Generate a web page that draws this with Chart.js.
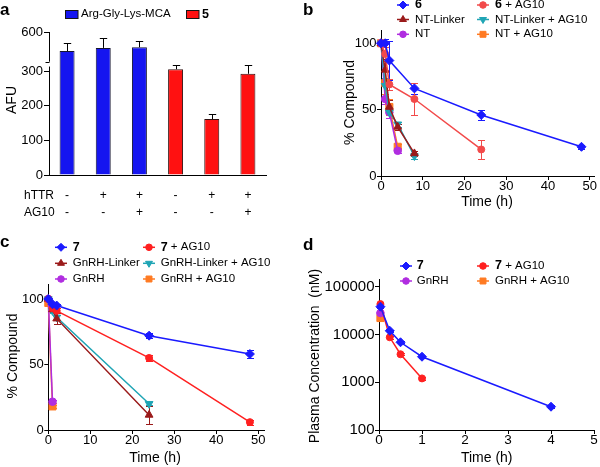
<!DOCTYPE html>
<html><head><meta charset="utf-8">
<script src="https://cdn.jsdelivr.net/npm/chart.js@4.4.1/dist/chart.umd.min.js"></script>
<style>
html,body{margin:0;padding:0;background:#fff;overflow:hidden;width:600px;height:467px}
canvas{position:absolute;left:0;top:0}
</style></head><body>
<canvas id="ca" width="600" height="467"></canvas>
<canvas id="cb" width="600" height="467"></canvas>
<canvas id="cc" width="600" height="467"></canvas>
<canvas id="cd" width="600" height="467"></canvas>
<script>
// ================= DATA =================
// Panel a (bar chart, AFU)
const aHTTR = ['-', '+', '+', '-', '+', '+'];
const aAG10 = ['-', '-', '+', '-', '-', '+'];
const aMCA = [483, 502, 506, null, null, null];
const aMCAErr = [51, 60, 39, null, null, null];
const a5 = [null, null, null, 306, 162, 293];
const a5Err = [null, null, null, 13, 16, 26];
const aYTicks = [0, 100, 200, 300, 600];

// Panel b (% compound vs time)
const bT6 = [0, 1, 2, 8, 24, 48];
const b6 = [100, 100, 87, 66, 46, 22];
const b6Err = [2, 3, 15, 4, 3.5, 1.5];
const bT6AG = [0, 1, 2, 8, 24];
const b6AG = [100, 92, 69, 58, 20];
const b6AGErr = [2, 5, 4, 12, 7];
const bTNTL = [0, 1, 2, 4, 8];
const bNTL = [100, 80, 52, 37, 17];
const bNTLErr = [2, 8, 5, 2, 2];
const bNTLAG = [100, 68, 48, 39, 15];
const bNTLAGErr = [2, 6, 4, 2, 2];
const bTNT = [0, 1, 2, 4];
const bNT = [100, 58, 48, 19];
const bNTErr = [2, 4, 4, 2];
const bNTAG = [100, 70, 52, 22];
const bNTAGErr = [2, 8, 6, 2];
const bXTicks = [0, 10, 20, 30, 40, 50];
const bYTicks = [0, 50, 100];

// Panel c
const cT7 = [0, 1, 2, 24, 48];
const c7 = [100, 96, 95, 72, 58];
const c7Err = [1, 1, 1.5, 2, 3];
const c7AG = [100, 93, 91, 55, 6];
const c7AGErr = [1, 2, 2, 2.5, 2];
const cTGL = [0, 1, 2, 24];
const cGL = [100, 92, 85, 11.5];
const cGLErr = [1, 2, 4, 7];
const cGLAG = [100, 91, 86, 20];
const cGLAGErr = [1, 2, 2, 1];
const cTG = [0, 1];
const cG = [100, 21.6];
const cGErr = [1, 1];
const cGAG = [97, 18];
const cGAGErr = [2, 1];
const cXTicks = [0, 10, 20, 30, 40, 50];
const cYTicks = [0, 50, 100];

// Panel d (plasma concentration, nM, log)
const dT7 = [0.033, 0.25, 0.5, 1, 4];
const d7 = [38000, 11900, 6840, 3410, 307];
const d7Err = [3000, 600, 300, 200, 20];
const dT7AG = [0.033, 0.25, 0.5, 1];
const d7AG = [43000, 8700, 3840, 1200];
const d7AGErr = [3000, 500, 200, 80];
const dTG = [0.033];
const dG = [28000];
const dGErr = [1500];
const dGAG = [22000];
const dGAGErr = [3000];
const dXTicks = [0, 1, 2, 3, 4, 5];
const dYTicks = [100, 1000, 10000, 100000];

// ================= STYLE / HELPERS =================
const FF = "'Liberation Sans', Arial, Helvetica, sans-serif";
Chart.defaults.font.family = FF;
Chart.defaults.color = '#000';
Chart.defaults.animation = false;

const BLUE = '#1a1aff', CORAL = '#f24a4a', RED = '#ff2020', DRED = '#9a1a1a',
      TEAL = '#20a5b5', PURPLE = '#b02de0', ORANGE = '#ff7a22';

function fixedFit(size) {
  return s => {
    if (s.isHorizontal()) s.height = size; else s.width = size;
    s.paddingLeft = s.paddingRight = s.paddingTop = s.paddingBottom = 0;
  };
}
function setTicks(list) { return s => { s.ticks = list.map(v => ({ value: v })); }; }

function axis(type, min, max, ticks, fontSize, size, horizontal) {
  return {
    type, min, max,
    afterBuildTicks: setTicks(ticks),
    afterFit: fixedFit(size),
    grid: { display: true, drawOnChartArea: false, drawTicks: true, tickLength: 4, color: '#000', lineWidth: 1 },
    border: { display: true, color: '#000', width: 1 },
    ticks: { color: '#000', font: { size: fontSize, lineHeight: 1 }, padding: horizontal ? 0 : 0.5,
             autoSkip: false, maxRotation: 0, callback: v => String(v) }
  };
}

function series(label, xs, ys, errs, color, style, radius, rotation) {
  return {
    label,
    data: xs.map((x, i) => ({ x, y: ys[i] })),
    showLine: xs.length > 1,
    borderColor: color, backgroundColor: color, borderWidth: 1.5,
    pointStyle: style, pointRadius: radius, pointRotation: rotation || 0,
    pointBackgroundColor: color, pointBorderColor: color, pointBorderWidth: 1,
    clip: false,
    errHigh: ys.map((y, i) => errs && errs[i] ? y + errs[i] : null),
    errLow: ys.map((y, i) => errs && errs[i] ? y - errs[i] : null),
    legendStyle: { style, rotation: rotation || 0 }
  };
}

const errorPlugin = {
  id: 'errbars',
  beforeDatasetsDraw(chart) {
    const ctx = chart.ctx;
    chart.data.datasets.forEach((ds, di) => {
      if (!ds.errHigh && !ds.errLow) return;
      const meta = chart.getDatasetMeta(di);
      const ys = chart.scales[meta.yAxisID];
      ctx.save();
      ctx.strokeStyle = ds.errColor || ds.borderColor;
      ctx.lineWidth = 1;
      const cap = ds.errCap || 3.5;
      meta.data.forEach((el, i) => {
        const hi = ds.errHigh ? ds.errHigh[i] : null;
        const lo = ds.errLow ? ds.errLow[i] : null;
        if (hi == null && lo == null) return;
        const x = Math.round(el.x) + 0.5, y = el.y;
        ctx.beginPath();
        if (hi != null) {
          const yh = Math.round(ys.getPixelForValue(hi)) + 0.5;
          ctx.moveTo(x, y); ctx.lineTo(x, yh);
          ctx.moveTo(x - cap, yh); ctx.lineTo(x + cap, yh);
        }
        if (lo != null && lo > 0) {
          const yl = Math.round(ys.getPixelForValue(lo)) + 0.5;
          ctx.moveTo(x, y); ctx.lineTo(x, yl);
          ctx.moveTo(x - cap, yl); ctx.lineTo(x + cap, yl);
        }
        ctx.stroke();
      });
      ctx.restore();
    });
  }
};

function text(ctx, s, x, y, size, opts) {
  opts = opts || {};
  ctx.save();
  ctx.font = (opts.bold ? 'bold ' : '') + size + 'px ' + FF;
  ctx.fillStyle = '#000';
  ctx.textAlign = opts.align || 'center';
  ctx.textBaseline = opts.baseline || 'middle';
  ctx.translate(x, y);
  if (opts.rot) ctx.rotate(opts.rot);
  ctx.fillText(s, 0, 0);
  ctx.restore();
}

function labelText(ctx, label, x, y) {
  const m = label.match(/^(\d+)(.*)$/);
  ctx.save();
  ctx.fillStyle = '#000'; ctx.textAlign = 'left'; ctx.textBaseline = 'middle';
  let xx = x;
  let rest = label;
  if (m) {
    ctx.font = 'bold 12.5px ' + FF;
    ctx.fillText(m[1], xx, y);
    xx += ctx.measureText(m[1]).width;
    rest = m[2];
  }
  ctx.font = '11.5px ' + FF;
  if (rest) ctx.fillText(rest, xx, y);
  ctx.restore();
}

function lineLegend(chart, ctx, slots) {
  chart.data.datasets.forEach((ds, i) => {
    const [mx, y, tx] = slots[i];
    ctx.save();
    ctx.strokeStyle = ds.borderColor; ctx.lineWidth = 1.5;
    ctx.beginPath(); ctx.moveTo(mx - 6, y); ctx.lineTo(mx + 6, y); ctx.stroke();
    ctx.fillStyle = ds.borderColor; ctx.lineWidth = 1;
    const st = ds.legendStyle.style;
    const r = st === 'circle' ? 3.3 : (st === 'rect' ? 4.2 : 4);
    Chart.helpers.drawPoint(ctx, { pointStyle: st, radius: r, rotation: ds.legendStyle.rotation, borderWidth: 1 }, mx, y);
    ctx.restore();
    labelText(ctx, ds.label, tx, y);
  });
}

function annot(fn) { return { id: 'annot', afterDraw(chart) { const c = chart.ctx; c.save(); fn(chart, c); c.restore(); } }; }

// plot area (L,T,R,B) + y-axis box width yW + x-axis box height xH -> layout padding
function common(L, T, R, B, yW, xH) {
  return {
    responsive: false, devicePixelRatio: 1, animation: false,
    layout: { padding: { left: L - yW, top: T, right: 600 - R, bottom: 467 - B - xH } },
    plugins: { legend: { display: false }, tooltip: { enabled: false } }
  };
}

// ================= PANEL a =================
function aToUnit(v) { return v <= 320 ? v : (v < 400 ? 320 : 320 + (v - 400) * 0.47); }
const aBreakLow = 314, aBreakHigh = 328;

new Chart(document.getElementById('ca'), {
  type: 'bar',
  data: {
    labels: aHTTR.map((h, i) => [h, aAG10[i]]),
    datasets: [
      { label: 'Arg-Gly-Lys-MCA', data: aMCA.map(v => v == null ? null : aToUnit(v)),
        backgroundColor: '#1515f0', borderColor: '#151530', borderWidth: 1,
        errHigh: aMCA.map((v, i) => v == null ? null : aToUnit(v + aMCAErr[i])), errColor: '#000', errCap: 3.7 },
      { label: '5', data: a5.map(v => v == null ? null : aToUnit(v)),
        backgroundColor: '#ff1111', borderColor: '#301010', borderWidth: 1,
        errHigh: a5.map((v, i) => v == null ? null : aToUnit(v + a5Err[i])), errColor: '#000', errCap: 3.7 }
    ]
  },
  options: Object.assign(common(49, 32, 266, 175, 48, 50), {
    datasets: { bar: { barPercentage: 0.414, categoryPercentage: 1 } },
    scales: {
      x: { type: 'category', stacked: true, offset: true, afterFit: fixedFit(50),
           grid: { display: false, drawTicks: false, tickLength: 0 },
           border: { display: true, color: '#000', width: 1 },
           ticks: { color: '#000', font: { size: 12, lineHeight: 1.45 }, padding: 12, maxRotation: 0, autoSkip: false } },
      y: { type: 'linear', stacked: true, min: 0, max: aToUnit(600), afterFit: fixedFit(48),
           afterBuildTicks: s => { s.ticks = aYTicks.map(v => ({ value: aToUnit(v) })); },
           grid: { display: true, drawOnChartArea: false, drawTicks: true, tickLength: 5, color: '#000' },
           border: { display: false },
           ticks: { color: '#000', font: { size: 13 }, padding: 1,
                    callback: val => { const k = aYTicks.findIndex(t => Math.abs(aToUnit(t) - val) < 1e-6); return k >= 0 ? String(aYTicks[k]) : ''; } } }
    }
  }),
  plugins: [errorPlugin, annot((chart, ctx) => {
    const ys = chart.scales.y;
    const x0 = Math.round(chart.chartArea.left) + 0.5;
    ctx.strokeStyle = '#000'; ctx.lineWidth = 1;
    ctx.beginPath();
    ctx.moveTo(x0, ys.getPixelForValue(0)); ctx.lineTo(x0, ys.getPixelForValue(aBreakLow));
    ctx.moveTo(x0, ys.getPixelForValue(aBreakHigh)); ctx.lineTo(x0, ys.getPixelForValue(aToUnit(600)));
    const yb = Math.round(ys.getPixelForValue(aBreakHigh)) + 0.5;
    ctx.moveTo(x0 - 4, yb); ctx.lineTo(x0, yb);
    ctx.stroke();
    text(ctx, 'a', 0, 15, 17, { bold: true, align: 'left', baseline: 'alphabetic' });
    text(ctx, 'AFU', 12, 100, 14, { rot: -Math.PI / 2 });
    text(ctx, 'hTTR', 24, 195.5, 12, { align: 'left' });
    text(ctx, 'AG10', 24, 213, 12, { align: 'left' });
    const boxes = [[65, 10, 81], [186, 10, 202]];
    chart.data.datasets.forEach((ds, i) => {
      const [bx, by, tx] = boxes[i];
      ctx.fillStyle = ds.backgroundColor; ctx.fillRect(bx, by, 13, 8.5);
      ctx.strokeStyle = '#151515'; ctx.lineWidth = 1; ctx.strokeRect(bx + 0.5, by + 0.5, 12.5, 8);
      labelText(ctx, ds.label, tx, 14.3);
    });
  })]
});

// ================= PANEL b =================
new Chart(document.getElementById('cb'), {
  type: 'scatter',
  data: { datasets: [
    series('6', bT6, b6, b6Err, BLUE, 'rectRot', 4.5),
    series('6 + AG10', bT6AG, b6AG, b6AGErr, CORAL, 'circle', 3.5),
    series('NT-Linker', bTNTL, bNTL, bNTLErr, DRED, 'triangle', 4.5),
    series('NT-Linker + AG10', bTNTL, bNTLAG, bNTLAGErr, TEAL, 'triangle', 4.5, 180),
    series('NT', bTNT, bNT, bNTErr, PURPLE, 'circle', 3.8),
    series('NT + AG10', bTNT, bNTAG, bNTAGErr, ORANGE, 'rect', 5)
  ] },
  options: Object.assign(common(381, 30, 598.3, 176, 40, 22), {
    scales: {
      x: axis('linear', 0, 51, bXTicks, 13, 22, true),
      y: axis('linear', 0, 110, bYTicks, 13, 40)
    }
  }),
  plugins: [errorPlugin, annot((chart, ctx) => {
    text(ctx, 'b', 303, 15, 17, { bold: true, align: 'left', baseline: 'alphabetic' });
    text(ctx, '% Compound', 350, 102.5, 14, { rot: -Math.PI / 2 });
    text(ctx, 'Time (h)', 487, 202, 14);
    lineLegend(chart, ctx, [[403, 5, 415], [483, 5, 495], [403, 19.5, 415], [483, 19.5, 495], [403, 34.3, 415], [483, 34.3, 495]]);
  })]
});

// ================= PANEL c =================
new Chart(document.getElementById('cc'), {
  type: 'scatter',
  data: { datasets: [
    series('7', cT7, c7, c7Err, BLUE, 'rectRot', 4.5),
    series('7 + AG10', cT7, c7AG, c7AGErr, RED, 'circle', 3.5),
    series('GnRH-Linker', cTGL, cGL, cGLErr, DRED, 'triangle', 4.5),
    series('GnRH-Linker + AG10', cTGL, cGLAG, cGLAGErr, TEAL, 'triangle', 4.5, 180),
    series('GnRH', cTG, cG, cGErr, PURPLE, 'circle', 3.8),
    series('GnRH + AG10', cTG, cGAG, cGAGErr, ORANGE, 'rect', 5)
  ] },
  options: Object.assign(common(48.3, 284.6, 264.6, 430, 40, 22), {
    scales: {
      x: axis('linear', 0, 51.5, cXTicks, 13, 22, true),
      y: axis('linear', 0, 111, cYTicks, 13, 40)
    }
  }),
  plugins: [errorPlugin, annot((chart, ctx) => {
    text(ctx, 'c', 0, 246.7, 17, { bold: true, align: 'left', baseline: 'alphabetic' });
    text(ctx, '% Compound', 13.3, 356, 14, { rot: -Math.PI / 2 });
    text(ctx, 'Time (h)', 155, 458.3, 14);
    lineLegend(chart, ctx, [[61, 247.3, 72.7], [149, 247.3, 160.7], [61, 263.3, 72.7], [149, 263.3, 160.7], [61, 279, 72.7], [149, 279, 160.7]]);
  })]
});

// ================= PANEL d =================
new Chart(document.getElementById('cd'), {
  type: 'scatter',
  data: { datasets: [
    series('7', dT7, d7, d7Err, BLUE, 'rectRot', 4.5),
    series('7 + AG10', dT7AG, d7AG, d7AGErr, RED, 'circle', 3.5),
    series('GnRH', dTG, dG, dGErr, PURPLE, 'circle', 3.8),
    series('GnRH + AG10', dTG, dGAG, dGAGErr, ORANGE, 'rect', 5)
  ] },
  options: Object.assign(common(379, 279.6, 595, 430, 60, 22), {
    scales: {
      x: axis('linear', 0, 5, dXTicks, 13.5, 22, true),
      y: axis('logarithmic', 100, 140000, dYTicks, 15, 60)
    }
  }),
  plugins: [errorPlugin, annot((chart, ctx) => {
    text(ctx, 'd', 303, 250, 17, { bold: true, align: 'left', baseline: 'alphabetic' });
    text(ctx, 'Plasma Concentration  (nM)', 315, 356, 14, { rot: -Math.PI / 2 });
    text(ctx, 'Time (h)', 486.7, 458.3, 14);
    lineLegend(chart, ctx, [[406, 266, 416.7], [483, 266, 495], [406, 281, 416.7], [483, 281, 495]]);
  })]
});
</script>
</body></html>
